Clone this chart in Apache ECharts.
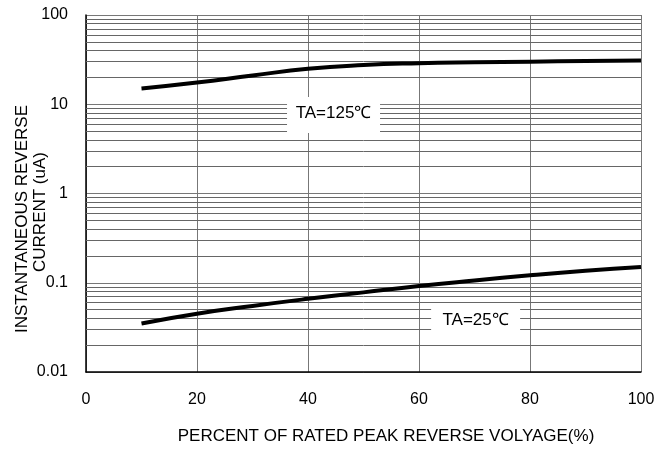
<!DOCTYPE html>
<html>
<head>
<meta charset="utf-8">
<script src="https://cdn.jsdelivr.net/npm/echarts@6/dist/echarts.min.js"></script>
<style>html,body{margin:0;padding:0;background:#fff;}#c{width:670px;height:450px;}</style>
</head>
<body>
<div id="c"></div>
<script>
var percent = [10, 20, 30, 40, 50, 60, 70, 80, 90, 100];
var current125 = [15, 17.5, 21, 25, 27.5, 28.8, 29.5, 30, 30.5, 31];
var current25 = [0.035, 0.045, 0.055, 0.066, 0.078, 0.092, 0.106, 0.121, 0.136, 0.15];
var xTicks = [0, 20, 40, 60, 80, 100];
var yTicks = [0.01, 0.1, 1, 10, 100];
var labels = [
  {text: 'TA=125\u2103', x: 44.6, y: 7.6, w: 93, h: 36},
  {text: 'TA=25\u2103', x: 70.2, y: 0.0363, w: 89, h: 34}
];

var minorGrid = [];
for (var d = 0; d < yTicks.length - 1; d++) {
  for (var m = 2; m <= 9; m++) {
    minorGrid.push({yAxis: yTicks[d] * m});
  }
}

var font = 'Liberation Sans, Arial, sans-serif';
var chart = echarts.init(document.getElementById('c'), null, {renderer: 'canvas'});
chart.setOption({
  animation: false,
  backgroundColor: '#fff',
  grid: {left: 86, right: 29, top: 15, bottom: 78},
  xAxis: {
    type: 'value', min: xTicks[0], max: xTicks[xTicks.length - 1], interval: 20,
    axisLine: {show: true, lineStyle: {color: '#000', width: 1.5}},
    axisTick: {show: false},
    axisLabel: {fontFamily: font, fontSize: 16, color: '#000', margin: 20},
    splitLine: {show: true, lineStyle: {color: '#777', width: 1}}
  },
  yAxis: {
    type: 'log', logBase: 10, min: yTicks[0], max: yTicks[yTicks.length - 1],
    axisLine: {show: true, lineStyle: {color: '#000', width: 1.5}},
    axisTick: {show: false},
    axisLabel: {fontFamily: font, fontSize: 16, color: '#000', margin: 18,
      formatter: function (v) { return String(parseFloat(v.toPrecision(3))); }},
    splitLine: {show: true, lineStyle: {color: '#777', width: 1}}
  },
  graphic: [
    {type: 'text', x: 22, y: 219, rotation: Math.PI / 2,
     style: {text: 'INSTANTANEOUS REVERSE', fontFamily: font, fontSize: 17, fill: '#000', align: 'center', verticalAlign: 'middle'}},
    {type: 'text', x: 40, y: 212, rotation: Math.PI / 2,
     style: {text: 'CURRENT (uA)', fontFamily: font, fontSize: 17, fill: '#000', align: 'center', verticalAlign: 'middle'}},
    {type: 'text', x: 386, y: 436,
     style: {text: 'PERCENT OF RATED PEAK REVERSE VOLYAGE(%)', fontFamily: font, fontSize: 17, fill: '#000', align: 'center', verticalAlign: 'middle'}}
  ],
  series: [
    {
      type: 'line', data: [], silent: true, z: 1,
      markLine: {
        silent: true, symbol: 'none', z: 1, animation: false,
        label: {show: false},
        lineStyle: {color: '#666', width: 1, type: 'solid'},
        emphasis: {disabled: true},
        data: minorGrid
      },
      markPoint: {
        silent: true, z: 10, animation: false,
        data: labels.map(function (l) {
          return {
            coord: [l.x, l.y], symbol: 'rect', symbolSize: [l.w, l.h],
            itemStyle: {color: '#fff'},
            label: {show: true, position: 'inside', formatter: l.text, color: '#000', fontFamily: font, fontSize: 17, offset: [0, -2]}
          };
        })
      }
    },
    {
      name: 'TA=125', type: 'line', smooth: true, showSymbol: false, z: 5,
      lineStyle: {color: '#000', width: 4},
      data: percent.map(function (p, i) { return [p, current125[i]]; })
    },
    {
      name: 'TA=25', type: 'line', smooth: true, showSymbol: false, z: 5,
      lineStyle: {color: '#000', width: 4},
      data: percent.map(function (p, i) { return [p, current25[i]]; })
    }
  ]
});
</script>
</body>
</html>
